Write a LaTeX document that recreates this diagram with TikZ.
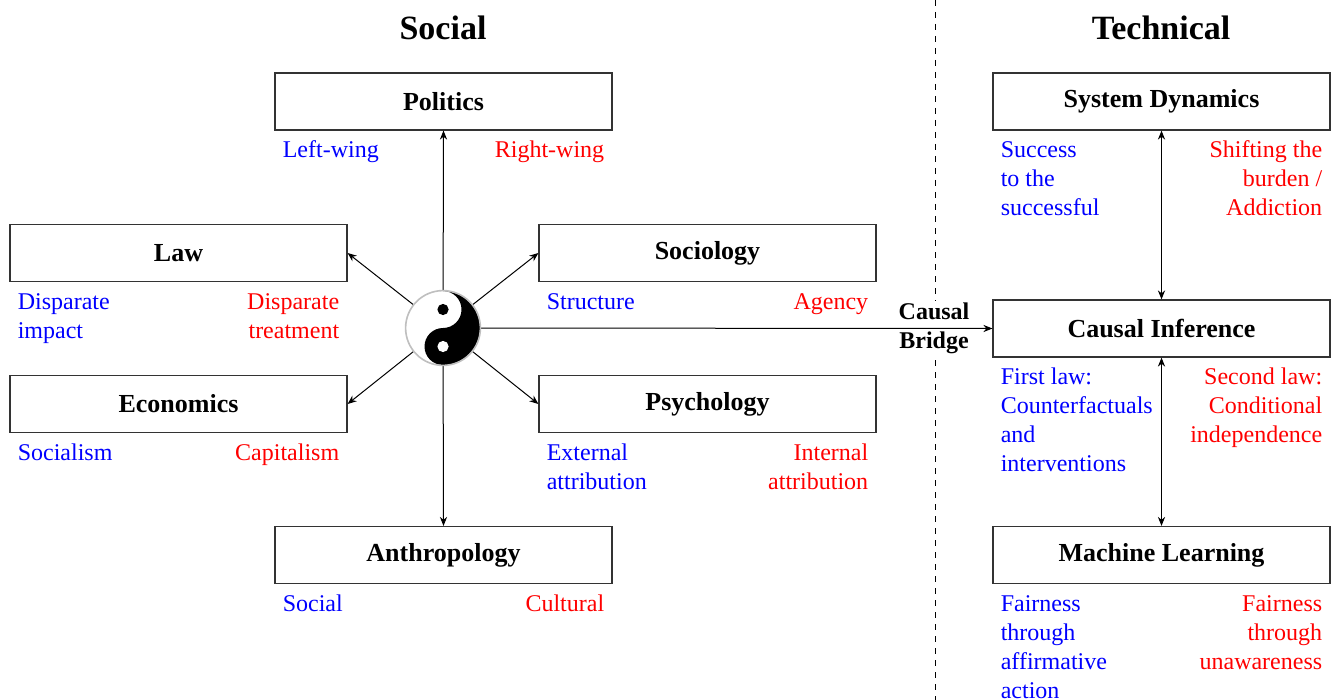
\documentclass[tikz,border=0pt]{standalone}
\usepackage{fontspec}
\setmainfont{Liberation Serif}
\usetikzlibrary{arrows.meta}
\definecolor{lblue}{RGB}{0,0,255}
\definecolor{lred}{RGB}{255,0,0}
\begin{document}
\begin{tikzpicture}[x=0.5pt,y=-0.5pt,
  box/.style={draw=black!80, line width=0.6pt, rectangle, minimum width=168.5pt, minimum height=28.5pt, inner sep=0pt, font=\fontsize{13}{15}\selectfont\bfseries},
  lab/.style={inner sep=0pt, font=\fontsize{12}{14.5}\selectfont},
  labl/.style={lab, align=left, anchor=north west, text=lblue},
  labr/.style={lab, align=right, anchor=north east, text=lred},
  ttl/.style={font=\fontsize{17}{20}\selectfont\bfseries, inner sep=0pt},
  arr/.style={-{Stealth[length=4.5pt,width=3.6pt]}, line width=0.5pt},
  darr/.style={{Stealth[length=4.5pt,width=3.6pt]}-{Stealth[length=4.5pt,width=3.6pt]}, line width=0.5pt},
  ]
\useasboundingbox (0,0) rectangle (1331,700);

% titles
\node[ttl] (tsoc) at (443,28) {Social};
\node[ttl] (ttec) at (1161,28) {Technical};

% boxes
\node[box] (pol) at (443.5,101.5) {Politics};
\node[box] (law) at (178.5,253) {Law};
\node[box] (soc) at (707.5,253) {Sociology};
\node[box] (eco) at (178.5,404) {Economics};
\node[box] (psy) at (707.5,404) {Psychology};
\node[box] (ant) at (443.5,555) {Anthropology};
\node[box] (sd) at (1161.5,101.5) {System Dynamics};
\node[box] (ci) at (1161.5,328.5) {Causal Inference};
\node[box] (ml) at (1161.5,555) {Machine Learning};

% labels
\foreach \b/\l/\r in {pol/Left-wing/Right-wing,
  law/{Disparate\\impact}/{Disparate\\treatment},
  soc/Structure/Agency,
  eco/Socialism/Capitalism,
  psy/{External\\attribution}/{Internal\\attribution},
  ant/Social/Cultural,
  sd/{Success\\to the\\successful}/{Shifting the\\burden /\\Addiction},
  ci/{First law:\\Counterfactuals\\and\\interventions}/{Second law:\\Conditional\\independence},
  ml/{Fairness\\through\\affirmative\\action}/{Fairness\\through\\unawareness}}{
  \node[labl] (\b l) at ([xshift=4pt,yshift=-3.1pt]\b.south west) {\strut\l};
  \node[labr] (\b r) at ([xshift=-4pt,yshift=-3.1pt]\b.south east) {\strut\r};
}

% dashed separator
\coordinate (dtop) at (935,0);
\coordinate (dbot) at (935,700);
\draw[dashed, line width=0.5pt] (dtop) -- (dbot);
\node[fill=white, inner sep=1pt, align=center, font=\fontsize{12}{14.5}\selectfont\bfseries] (bridge) at (934,328) {Causal\\Bridge};

% yin-yang node
\node[circle, minimum size=37pt, inner sep=0pt] (yy) at (443,328) {};

% arrows
\draw[arr] (yy) -- (pol.south);
\draw[arr] (yy) -- (law.east);
\draw[arr] (yy) -- (soc.west);
\draw[arr] (yy) -- (eco.east);
\draw[arr] (yy) -- (psy.west);
\draw[arr] (yy) -- (ant.north);
\draw[arr] (yy.center) -- (ci.west);
\draw[darr] (sd.south) -- (ci.north);
\draw[darr] (ci.south) -- (ml.north);

% yin-yang drawing
\begin{scope}[shift={(yy.center)}, x=1pt, y=1pt]
  \fill[white] (0,0) circle (18.5);
  \fill[black] (0,18.5) arc[start angle=90, end angle=-90, radius=18.5]
     arc[start angle=270, end angle=90, radius=9.25]
     arc[start angle=-90, end angle=90, radius=9.25] -- cycle;
  \fill[black] (0,9.25) circle (2.8);
  \fill[white] (0,-9.25) circle (2.8);
  \draw[black!25, line width=0.8pt] (0,0) circle (18.7);
\end{scope}
\end{tikzpicture}
\end{document}
